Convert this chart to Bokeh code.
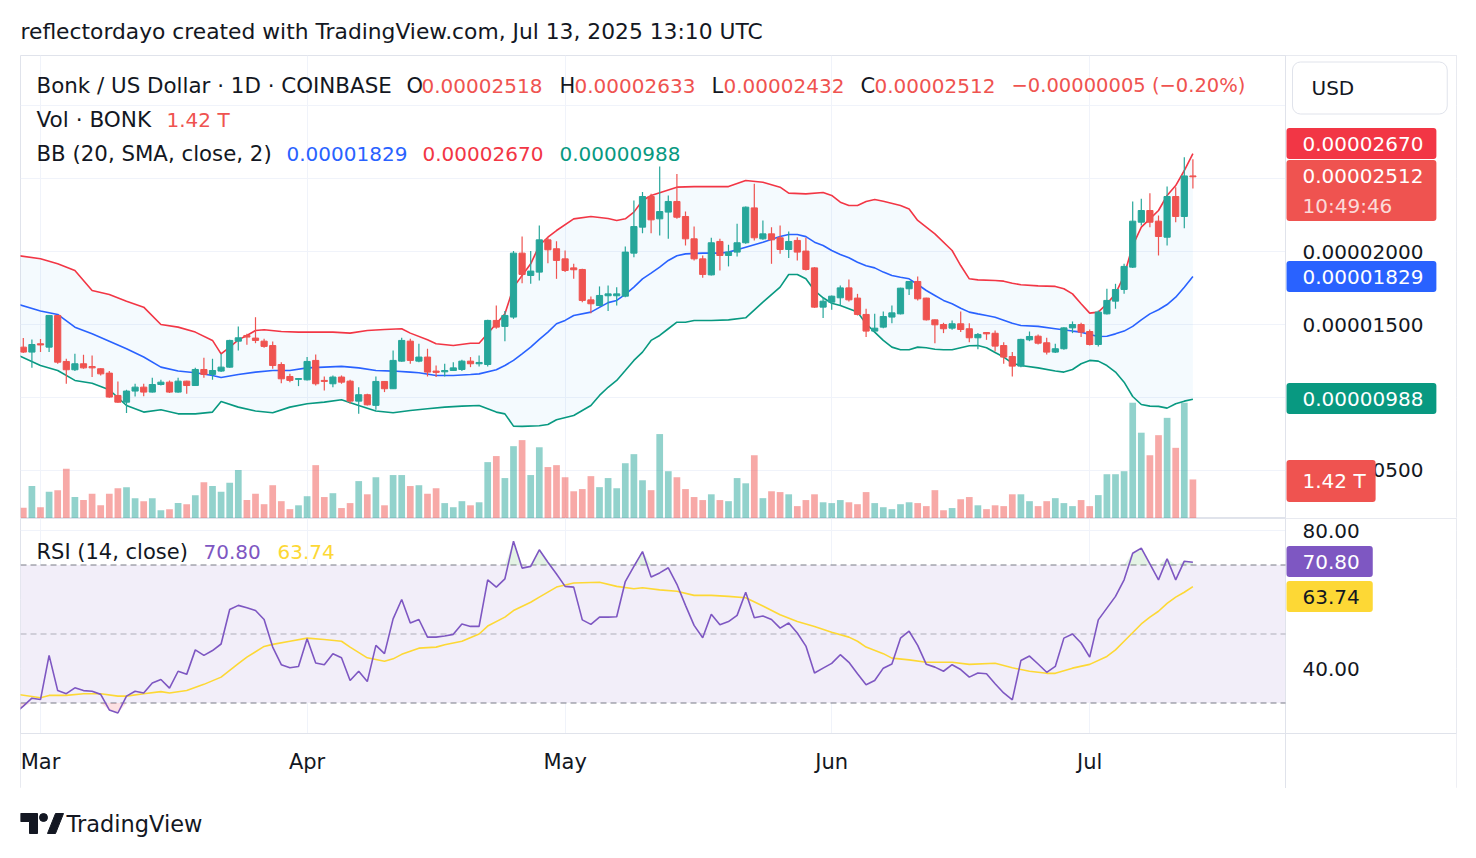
import numpy as np
from bokeh.plotting import figure
from bokeh.layouts import column
from bokeh.models import (Range1d, FixedTicker, Label, PrintfTickFormatter,
                          ColumnDataSource, BoxAnnotation)
from bokeh.embed import file_html
from bokeh.resources import INLINE

# ------------------------------------------------------------------ data
# day index: 0 = 2025-03-01 ; prices in units of 1e-8 USD
SCALE = 1e-8
days = list(range(-2, 135))
opens = [1345, 1311,
         1368, 1345, 1562, 1247, 1190, 1231, 1212, 1197, 1167, 1014,
         968, 1044, 1071, 1037, 1089, 1105, 1037, 1112, 1082, 1192,
         1158, 1181, 1208, 1386, 1425, 1407, 1386, 1356, 1226, 1144,
         1124, 1121, 1254, 1117, 1094, 1140, 1112, 975, 1019, 946,
         1110, 1060, 1249, 1386, 1249, 1277, 1181, 1176, 1185, 1192,
         1249, 1231, 1226, 1528, 1487, 1551, 1989, 1836, 1859, 2080,
         2019, 1950, 1888, 1877, 1669, 1630, 1697, 1697, 1694, 1989,
         2167, 2377, 2224, 2270, 2343, 2240, 2087, 1950, 1840, 2069,
         1973, 1996, 2060, 2299, 2087, 2121, 2094, 2014, 2076, 2003,
         1888, 1619, 1653, 1683, 1751, 1681, 1569, 1455, 1482, 1551,
         1573, 1745, 1795, 1681, 1532, 1500, 1475, 1505, 1471, 1409,
         1445, 1440, 1356, 1281, 1215, 1395, 1420, 1375, 1311, 1334,
         1477, 1500, 1452, 1363, 1573, 1660, 1740, 1893, 2201, 2281,
         2208, 2098, 2377, 2240, 2518]
highs = [1407, 1398,
         1400, 1566, 1566, 1265, 1299, 1293, 1288, 1200, 1181, 1110,
         1053, 1094, 1094, 1135, 1121, 1117, 1135, 1114, 1203, 1272,
         1265, 1299, 1395, 1487, 1436, 1550, 1402, 1384, 1242, 1162,
         1133, 1277, 1295, 1144, 1151, 1151, 1121, 1071, 1025, 1144,
         1112, 1322, 1409, 1402, 1368, 1334, 1219, 1231, 1242, 1258,
         1277, 1288, 1532, 1630, 1592, 2003, 2103, 2003, 2178, 2094,
         2071, 2007, 1916, 1882, 1692, 1761, 1767, 1756, 2034, 2350,
         2407, 2395, 2582, 2384, 2532, 2274, 2171, 1973, 2094, 2087,
         2046, 2190, 2308, 2464, 2213, 2167, 2178, 2137, 2098, 2094,
         1893, 1687, 1699, 1767, 1808, 1710, 1608, 1573, 1589, 1630,
         1752, 1797, 1829, 1684, 1535, 1512, 1528, 1589, 1509, 1441,
         1448, 1459, 1379, 1311, 1402, 1452, 1432, 1409, 1368, 1482,
         1521, 1512, 1466, 1596, 1745, 1779, 1916, 2343, 2361, 2400,
         2247, 2445, 2441, 2646, 2633]
lows = [1304, 1203,
        1311, 1311, 1231, 1094, 1181, 1197, 1140, 1151, 998, 964,
        893, 1007, 1009, 1035, 1082, 1030, 1032, 1025, 1080, 1135,
        1121, 1174, 1203, 1322, 1361, 1372, 1341, 1197, 1098, 1105,
        1078, 1117, 1082, 1048, 1071, 1094, 957, 888, 946, 916,
        1037, 1058, 1245, 1231, 1242, 1144, 1140, 1144, 1181, 1181,
        1208, 1213, 1213, 1471, 1386, 1539, 1783, 1779, 1802, 1920,
        1813, 1859, 1813, 1653, 1578, 1624, 1592, 1630, 1687, 1961,
        2126, 2126, 2110, 2087, 2224, 2041, 1939, 1820, 1836, 1870,
        1898, 1966, 2053, 2076, 2080, 1916, 1984, 1955, 1939, 1870,
        1614, 1544, 1601, 1630, 1658, 1562, 1414, 1452, 1475, 1509,
        1569, 1703, 1665, 1528, 1372, 1441, 1464, 1448, 1379, 1331,
        1395, 1315, 1231, 1144, 1208, 1386, 1363, 1295, 1304, 1327,
        1441, 1414, 1356, 1350, 1569, 1608, 1710, 1888, 2178, 2167,
        1973, 2041, 2201, 2160, 2432]
closes = [1311, 1363,
          1360, 1562, 1242, 1190, 1231, 1203, 1203, 1162, 1003, 968,
          1044, 1071, 1037, 1089, 1105, 1037, 1112, 1082, 1192, 1158,
          1185, 1208, 1391, 1409, 1414, 1391, 1350, 1219, 1128, 1117,
          1130, 1247, 1094, 1110, 1140, 1105, 975, 1019, 950, 1110,
          1060, 1254, 1391, 1254, 1277, 1174, 1172, 1185, 1203, 1249,
          1231, 1240, 1528, 1482, 1562, 1989, 1843, 1866, 2080, 2012,
          1939, 1870, 1875, 1665, 1642, 1699, 1710, 1710, 1996, 2171,
          2377, 2217, 2274, 2343, 2235, 2087, 1950, 1843, 2060, 1973,
          1996, 2060, 2304, 2094, 2121, 2080, 2014, 2069, 1996, 1877,
          1619, 1660, 1694, 1751, 1669, 1569, 1455, 1475, 1555, 1580,
          1749, 1795, 1676, 1532, 1498, 1471, 1505, 1466, 1409, 1432,
          1436, 1352, 1277, 1215, 1398, 1418, 1372, 1311, 1334, 1477,
          1500, 1448, 1363, 1585, 1665, 1740, 1898, 2208, 2281, 2201,
          2103, 2377, 2240, 2518, 2512]
# volume in trillions of BONK
volumes = [0.39, 1.18,
           0.41, 0.97, 1.03, 1.81, 0.78, 0.67, 0.90, 0.48, 0.90, 1.10,
           1.14, 0.74, 0.63, 0.74, 0.30, 0.34, 0.56, 0.52, 0.85, 1.32,
           1.18, 0.97, 1.30, 1.76, 0.67, 0.90, 0.52, 1.21, 0.63, 0.34,
           0.48, 0.81, 1.94, 0.78, 0.92, 0.38, 0.56, 1.36, 0.88, 1.50,
           0.48, 1.58, 1.58, 1.18, 1.21, 0.90, 1.10, 0.56, 0.41, 0.63,
           0.48, 0.59, 2.05, 2.27, 1.47, 2.63, 2.85, 1.58, 2.59, 1.87,
           1.94, 1.50, 0.99, 1.07, 1.54, 1.14, 1.47, 1.10, 2.01, 2.34,
           1.39, 1.03, 3.07, 1.72, 1.50, 1.07, 0.78, 0.67, 0.88, 0.67,
           0.63, 1.47, 1.28, 2.30, 0.74, 0.99, 0.96, 0.88, 0.45, 0.67,
           0.88, 0.59, 0.56, 0.67, 0.59, 0.52, 0.96, 0.56, 0.41, 0.34,
           0.52, 0.59, 0.56, 0.45, 1.03, 0.30, 0.38, 0.70, 0.78, 0.48,
           0.34, 0.48, 0.45, 0.88, 0.88, 0.63, 0.45, 0.63, 0.74, 0.56,
           0.45, 0.67, 0.45, 0.85, 1.61, 1.61, 1.72, 4.21, 3.12, 2.30,
           3.03, 3.66, 2.57, 4.21, 1.42]

# Bollinger Bands (20, SMA, close, 2)
bb_upper_days = [-3, 0, 2, 4, 6, 8, 10, 12, 14, 16, 18, 20, 21, 22, 23, 24, 25, 26, 28, 30,
                 32, 34, 36, 38, 40, 42, 43, 45, 46, 48, 50, 51, 53, 54, 55, 56, 57, 58, 59, 60,
                 62, 64, 66, 67, 68, 69, 70, 71, 72, 74, 76, 78, 80, 82, 84, 86, 87, 89, 91, 92,
                 93, 94, 95, 96, 97, 98, 100, 101, 102, 104, 106, 107, 108, 109, 111, 112, 113, 114, 116, 118,
                 119, 120, 121, 122, 123, 124, 125, 126, 127, 128, 129, 130, 131, 132, 133, 134]
bb_upper = [1975, 1950, 1916, 1870, 1733, 1706, 1660, 1619, 1500, 1482, 1448, 1391, 1299, 1345, 1395, 1425, 1459, 1464, 1452, 1448,
            1448, 1448, 1441, 1459, 1466, 1471, 1441, 1395, 1368, 1356, 1372, 1372, 1505, 1573, 1756, 1836, 1916, 2041, 2098, 2144,
            2224, 2240, 2226, 2213, 2224, 2270, 2350, 2384, 2402, 2441, 2445, 2445, 2445, 2487, 2475, 2441, 2400, 2395, 2404, 2384,
            2338, 2315, 2315, 2343, 2356, 2345, 2315, 2292, 2213, 2121, 2007, 1904, 1813, 1806, 1802, 1797, 1783, 1772, 1765, 1761,
            1745, 1710, 1642, 1578, 1585, 1642, 1710, 1836, 2041, 2167, 2224, 2281, 2384, 2452, 2555, 2670]
bb_mid_days = [-3, 0, 2, 4, 6, 8, 10, 12, 14, 16, 18, 20, 21, 23, 25, 27, 29, 31, 33, 35,
               37, 39, 41, 43, 44, 46, 48, 50, 51, 53, 54, 55, 56, 57, 58, 59, 60, 61, 62, 64,
               66, 67, 68, 69, 70, 71, 72, 73, 74, 75, 77, 79, 80, 81, 82, 84, 86, 87, 88, 89,
               90, 91, 92, 93, 94, 95, 96, 97, 98, 99, 100, 101, 102, 103, 104, 105, 106, 107, 108, 109,
               110, 111, 112, 113, 114, 116, 118, 120, 121, 122, 123, 124, 125, 126, 127, 128, 129, 130, 131, 132,
               133, 134]
bb_mid = [1645, 1592, 1569, 1482, 1436, 1386, 1334, 1277, 1208, 1181, 1169, 1151, 1137, 1158, 1174, 1185, 1185, 1203, 1208, 1213,
          1203, 1185, 1181, 1174, 1169, 1151, 1151, 1158, 1162, 1190, 1219, 1254, 1299, 1345, 1398, 1448, 1505, 1528, 1562, 1585,
          1650, 1665, 1706, 1756, 1813, 1852, 1893, 1939, 1971, 1984, 1989, 1989, 1996, 2012, 2030, 2064, 2103, 2117, 2117, 2102,
          2064, 2041, 2007, 1980, 1957, 1927, 1902, 1888, 1859, 1836, 1824, 1813, 1774, 1733, 1699, 1665, 1642, 1612, 1585, 1573,
          1562, 1550, 1530, 1509, 1493, 1487, 1471, 1455, 1448, 1432, 1418, 1420, 1436, 1455, 1487, 1532, 1573, 1601, 1637, 1687,
          1756, 1829]
bb_lower_days = [-3, 0, 2, 4, 6, 8, 10, 12, 14, 16, 18, 20, 21, 23, 25, 27, 29, 31, 33, 35,
                 37, 39, 41, 43, 45, 47, 49, 51, 52, 53, 54, 55, 56, 58, 59, 60, 62, 63, 64, 65,
                 66, 67, 68, 69, 70, 71, 72, 73, 74, 75, 76, 78, 80, 82, 84, 86, 87, 88, 89, 90,
                 91, 92, 93, 94, 95, 96, 97, 98, 99, 100, 101, 102, 103, 104, 105, 106, 107, 108, 109, 110,
                 111, 112, 113, 114, 116, 118, 119, 120, 121, 122, 123, 124, 125, 126, 127, 128, 129, 130, 131, 132,
                 133, 134]
bb_lower = [1300, 1219, 1185, 1117, 1098, 1053, 945, 900, 916, 888, 888, 900, 972, 934, 907, 895, 934, 957, 968, 984,
            945, 907, 895, 911, 923, 934, 941, 945, 923, 900, 888, 804, 802, 806, 815, 847, 877, 911, 945, 1014,
            1070, 1117, 1185, 1254, 1311, 1391, 1425, 1471, 1516, 1516, 1528, 1528, 1532, 1546, 1653, 1756, 1843, 1843, 1813, 1733,
            1683, 1646, 1630, 1608, 1585, 1505, 1448, 1391, 1345, 1327, 1327, 1345, 1341, 1331, 1327, 1327, 1341, 1354, 1356, 1341,
            1308, 1277, 1235, 1219, 1203, 1181, 1174, 1192, 1231, 1254, 1249, 1219, 1174, 1105, 1007, 952, 941, 939, 927, 957,
            975, 988]

# RSI (14, close) and its MA
rsi_days = list(range(-3, 135))
rsi = [27.0, 29.1, 31.4, 31.0, 43.8, 33.6, 32.7, 34.4, 33.6, 33.4,
       32.5, 28.0, 27.1, 32.0, 33.4, 32.9, 35.8, 36.8, 34.3, 39.2,
       38.3, 45.4, 43.8, 45.2, 47.1, 57.1, 58.3, 57.6, 56.8, 54.2,
       46.2, 41.1, 40.2, 40.6, 48.6, 41.6, 41.1, 44.3, 43.1, 36.5,
       39.2, 36.2, 46.7, 44.3, 54.4, 60.0, 53.2, 54.2, 49.1, 49.1,
       49.4, 49.9, 52.9, 52.2, 52.2, 65.7, 63.6, 66.0, 76.9, 69.1,
       69.6, 74.4, 70.8, 67.4, 63.8, 63.6, 54.1, 52.8, 54.9, 54.9,
       55.0, 65.2, 69.6, 73.9, 66.5, 67.7, 69.2, 64.4, 58.3, 52.5,
       48.9, 55.7, 52.7, 53.6, 55.4, 62.1, 54.7, 55.2, 54.2, 51.7,
       53.2, 50.3, 46.5, 38.7, 40.1, 41.5, 44.0, 41.8, 38.5, 35.3,
       36.5, 40.1, 41.3, 48.8, 50.8, 46.7, 41.2, 40.4, 39.2, 41.1,
       39.7, 37.5, 38.7, 38.5, 35.6, 32.9, 30.9, 42.3, 43.6, 41.3,
       38.9, 40.6, 48.8, 50.0, 47.4, 43.3, 54.1, 57.5, 60.9, 65.7,
       73.4, 74.9, 70.3, 65.7, 71.8, 65.7, 71.1, 70.8]
rsi_ma_days = [-3, 0, 1, 3, 5, 7, 9, 10, 12, 14, 15, 17, 19, 21, 23, 24, 26, 27, 29, 31,
               33, 35, 36, 38, 40, 41, 42, 44, 46, 47, 49, 51, 52, 54, 55, 57, 58, 60, 62, 65,
               67, 69, 70, 72, 74, 76, 78, 80, 82, 84, 86, 88, 90, 92, 94, 95, 96, 98, 99, 101,
               103, 106, 108, 111, 113, 115, 117, 118, 120, 122, 124, 125, 126, 128, 129, 130, 131, 132, 133, 134]
rsi_ma = [32.6, 31.5, 32.2, 32.2, 32.7, 32.7, 32.0, 32.0, 32.7, 33.3, 32.9, 33.6, 35.4, 37.5, 41.4, 43.3, 46.4, 47.0, 47.9, 48.8,
          48.4, 47.9, 46.2, 43.1, 42.1, 42.8, 44.1, 45.9, 46.2, 46.9, 47.9, 50.0, 52.3, 54.9, 56.8, 59.2, 60.7, 63.6, 64.8, 65.0,
          63.8, 63.1, 63.4, 62.8, 62.4, 61.2, 61.2, 60.9, 60.5, 58.1, 55.6, 53.6, 52.2, 50.5, 49.1, 47.9, 46.2, 44.3, 43.0, 42.5,
          41.8, 41.8, 41.2, 41.5, 40.2, 39.2, 38.6, 38.6, 40.1, 41.2, 43.5, 45.4, 47.9, 52.9, 54.9, 56.6, 58.9, 60.7, 62.1, 63.74]

month_ticks = [0, 31, 61, 92, 122]
month_labels = ["Mar", "Apr", "May", "Jun", "Jul"]
price_ticks = [0.000005, 0.00001, 0.000015, 0.00002, 0.000025]
price_grid = [0.000005, 0.00001, 0.000015, 0.00002, 0.000025, 0.00003]
rsi_ticks = [40, 60, 80]
rsi_levels = [70, 50, 30]

# ------------------------------------------------------------------ style
FONT = "DejaVu Sans"
DARK = "#131722"
GRID = "#f0f3fa"
BORDER = "#e0e3eb"
UP = "#26a69a"
DOWN = "#ef5350"
W = 1476
PX_PER_DAY = 8.6

XL = -20 / PX_PER_DAY
XR = XL + 1436 / PX_PER_DAY           # frame spans canvas x 20..1456
P0, P1 = 171e-8, 3343e-8              # main pane canvas y 518..55
R1 = 80 + 12 / 3.45                   # RSI pane canvas y 518..788
R0 = R1 - 270 / 3.45
VOL_TOP = 463 / 27.5


def mx(px):
    return XL + (px - 20) / PX_PER_DAY


def my(py):
    return P1 - (py - 55) * (P1 - P0) / 463


def ry(py):
    return R1 - (py - 518) * (R1 - R0) / 270


def txt(fig, x, y, s, color=DARK, size="21px", alpha=1.0):
    fig.add_layout(Label(x=x, y=y, text=s, text_color=color, text_alpha=alpha,
                         text_font=FONT, text_font_size=size,
                         text_baseline="middle", text_align="left", level="overlay"))


def tag(fig, x, y, s, bg, color="white", right=13, top=9, bottom=8, left=16,
        border=None, radius=3):
    fig.add_layout(Label(x=x, y=y, text=s, text_color=color, text_font=FONT,
                         text_font_size="20px", text_baseline="middle", text_align="left",
                         background_fill_color=bg, background_fill_alpha=1.0,
                         border_line_color=border, border_radius=radius,
                         padding=dict(left=left, right=right, top=top, bottom=bottom),
                         level="overlay"))


def box(fig, left=None, right=None, top=None, bottom=None, color=BORDER, level="overlay"):
    fig.add_layout(BoxAnnotation(left=left, right=right, top=top, bottom=bottom,
                                 fill_color=color, fill_alpha=1.0, line_color=None,
                                 level=level))


def style_axis(a, standoff):
    a.axis_line_color = None
    a.major_tick_line_color = None
    a.minor_tick_line_color = None
    a.major_tick_out = 0
    a.major_tick_in = 0
    a.major_label_standoff = standoff
    a.major_label_text_font = FONT
    a.major_label_text_font_size = "20px"
    a.major_label_text_color = DARK


# ------------------------------------------------------------------ header
hdr = figure(width=W, height=55, x_range=Range1d(20, 1456), y_range=Range1d(55, 0),
             x_axis_location=None, y_axis_location=None,
             min_border_left=20, min_border_right=20, min_border_top=0, min_border_bottom=0,
             toolbar_location=None, output_backend="svg", outline_line_color=None)
hdr.grid.visible = False
hdr.add_layout(Label(x=20, y=31, text="reflectordayo created with TradingView.com, Jul 13, 2025 13:10 UTC",
                     text_color=DARK, text_font=FONT, text_font_size="21.8px", text_baseline="middle"))

# ------------------------------------------------------------------ main pane
o = np.array(opens) * SCALE
h = np.array(highs) * SCALE
l = np.array(lows) * SCALE
c = np.array(closes) * SCALE
colors = [UP if cc >= oo else DOWN for oo, cc in zip(opens, closes)]
src = ColumnDataSource(dict(d=days, o=o, h=h, l=l, c=c,
                            top=np.maximum(o, c), bot=np.minimum(o, c),
                            col=colors, vol=volumes))

pm = figure(width=W, height=463, x_range=Range1d(XL, XR), y_range=Range1d(P0, P1),
            x_axis_location=None, y_axis_location="right",
            min_border_left=20, min_border_right=20, min_border_top=0, min_border_bottom=0,
            toolbar_location=None, output_backend="svg", outline_line_color=BORDER,
            background_fill_color="white", border_fill_color="white")
pm.extra_y_ranges = {"vol": Range1d(0, VOL_TOP)}
pm.xgrid.ticker = FixedTicker(ticks=month_ticks)
pm.xgrid.grid_line_color = GRID
ax = pm.yaxis[0]
ax.ticker = FixedTicker(ticks=price_ticks)
ax.formatter = PrintfTickFormatter(format="%.8f")
style_axis(ax, 1302 - 1456)
pm.ygrid.ticker = FixedTicker(ticks=price_grid)
pm.ygrid.grid_line_color = GRID
# price-scale column: blank it and draw its separator
box(pm, left=mx(1285), color="white", level="underlay")
box(pm, left=mx(1284.5), right=mx(1285.5), color=BORDER, level="underlay")

# volume
pm.vbar(x="d", width=0.78, top="vol", bottom=0, y_range_name="vol", source=src,
        fill_color="col", fill_alpha=0.5, line_color=None)
# bollinger fill + lines
bb_px = bb_upper_days + bb_lower_days[::-1]
bb_py = [v * SCALE for v in bb_upper + bb_lower[::-1]]
pm.patch(bb_px, bb_py, fill_color="#2196f3", fill_alpha=0.05, line_color=None)
pm.line(bb_upper_days, [v * SCALE for v in bb_upper], line_color="#f23645", line_width=1.6)
pm.line(bb_mid_days, [v * SCALE for v in bb_mid], line_color="#2962ff", line_width=1.6)
pm.line(bb_lower_days, [v * SCALE for v in bb_lower], line_color="#089981", line_width=1.6)
# candles
pm.segment(x0="d", y0="l", x1="d", y1="h", line_color="col", line_width=1.2, source=src)
pm.vbar(x="d", width=0.72, top="top", bottom="bot", fill_color="col", line_color="col",
        line_width=1, source=src)

# legend texts
txt(pm, mx(36), my(85), "Bonk / US Dollar · 1D · COINBASE", size="21.4px")
txt(pm, mx(406), my(85), "O")
txt(pm, mx(421), my(85), "0.00002518", DOWN, "20px")
txt(pm, mx(559), my(85), "H")
txt(pm, mx(574), my(85), "0.00002633", DOWN, "20px")
txt(pm, mx(711), my(85), "L")
txt(pm, mx(723), my(85), "0.00002432", DOWN, "20px")
txt(pm, mx(860), my(85), "C")
txt(pm, mx(874), my(85), "0.00002512", DOWN, "20px")
txt(pm, mx(1011), my(85), "\u22120.00000005 (\u22120.20%)", DOWN, "19.5px")
txt(pm, mx(36), my(119), "Vol · BONK", size="21.6px")
txt(pm, mx(166), my(119), "1.42 T", DOWN, "20px")
txt(pm, mx(36), my(153), "BB (20, SMA, close, 2)", size="21.3px")
txt(pm, mx(286), my(153), "0.00001829", "#2962ff", "20px")
txt(pm, mx(422), my(153), "0.00002670", "#f23645", "20px")
txt(pm, mx(559), my(153), "0.00000988", "#089981", "20px")

# price-scale tags
tag(pm, mx(1292), my(87.5), "USD", "white", color=DARK, left=19, right=93, top=14, bottom=14,
    border=BORDER, radius=8)
tag(pm, mx(1286), my(143), "0.00002670", "#f23645")
tag(pm, mx(1286), my(190), "0.00002512", DOWN, top=9, bottom=38)
txt(pm, mx(1302), my(205), "10:49:46", "white", "20px", alpha=0.8)
tag(pm, mx(1286), my(276), "0.00001829", "#2962ff")
tag(pm, mx(1286), my(398), "0.00000988", "#089981")
tag(pm, mx(1286), my(480.5), "1.42 T", DOWN, right=10, top=9, bottom=9)

# ------------------------------------------------------------------ RSI pane (incl. time scale row)
pr = figure(width=W, height=270, x_range=pm.x_range, y_range=Range1d(R0, R1),
            y_axis_location="right",
            min_border_left=20, min_border_right=20, min_border_top=0, min_border_bottom=0,
            toolbar_location=None, output_backend="svg", outline_line_color=BORDER,
            background_fill_color="white", border_fill_color="white")
xa = pr.xaxis[0]
xa.ticker = FixedTicker(ticks=month_ticks)
xa.major_label_overrides = {t: s for t, s in zip(month_ticks, month_labels)}
style_axis(xa, -39)
xa.major_label_text_font_size = "21px"
pr.xgrid.ticker = FixedTicker(ticks=month_ticks)
pr.xgrid.grid_line_color = GRID
ya = pr.yaxis[0]
ya.ticker = FixedTicker(ticks=rsi_ticks)
ya.formatter = PrintfTickFormatter(format="%.2f")
style_axis(ya, 1302 - 1456)
pr.ygrid.ticker = FixedTicker(ticks=rsi_ticks)
pr.ygrid.grid_line_color = GRID

# RSI band and levels
box(pr, right=mx(1285), bottom=30, top=70, color="#f2eef9", level="underlay")
lvl_x0 = [XL] * len(rsi_levels)
lvl_x1 = [mx(1285)] * len(rsi_levels)
pr.segment(x0=lvl_x0, y0=rsi_levels, x1=lvl_x1, y1=rsi_levels,
           line_color="#787b86", line_alpha=[1.0, 0.55, 1.0], line_dash="6 4", line_width=1)
# blank the price-scale column and the time-scale row
box(pr, left=mx(1285), color="white", level="underlay")
box(pr, top=ry(733), color="white", level="underlay")
box(pr, left=mx(1284.5), right=mx(1285.5), color=BORDER, level="underlay")
box(pr, top=ry(732.5), bottom=ry(733.5), color=BORDER, level="underlay")

rsi_arr = np.array(rsi)
pr.varea(x=rsi_days, y1=np.full(len(rsi), 70.0), y2=np.maximum(rsi_arr, 70.0),
         fill_color="#4caf50", fill_alpha=0.15)
pr.varea(x=rsi_days, y1=np.minimum(rsi_arr, 30.0), y2=np.full(len(rsi), 30.0),
         fill_color="#f23645", fill_alpha=0.15)
pr.line(rsi_ma_days, rsi_ma, line_color="#fdd835", line_width=1.6)
pr.line(rsi_days, rsi, line_color="#7e57c2", line_width=1.6)

txt(pr, mx(36), ry(551), "RSI (14, close)")
txt(pr, mx(203), ry(551), "70.80", "#7e57c2", "20px")
txt(pr, mx(277), ry(551), "63.74", "#fdd835", "20px")
tag(pr, mx(1286), ry(561), "70.80", "#7e57c2")
tag(pr, mx(1286), ry(596), "63.74", "#fdd835", color=DARK)

# ------------------------------------------------------------------ footer
ftr = figure(width=W, height=70, x_range=Range1d(20, 1456), y_range=Range1d(70, 0),
             x_axis_location=None, y_axis_location=None,
             min_border_left=20, min_border_right=20, min_border_top=0, min_border_bottom=0,
             toolbar_location=None, output_backend="svg", outline_line_color=None)
ftr.grid.visible = False
ftr.patch([20, 37, 37, 29, 29, 20], [25, 25, 45, 45, 33, 33], color=DARK)
ftr.scatter([43], [29], size=8, color=DARK)
ftr.patch([47, 55, 63, 55], [45, 25, 25, 45], color=DARK)
ftr.add_layout(Label(x=66, y=35, text="TradingView", text_color=DARK, text_font=FONT,
                     text_font_size="22.5px", text_baseline="middle"))

layout = column(hdr, pm, pr, ftr, spacing=0)
open("out.html", "w").write(file_html(layout, INLINE))
